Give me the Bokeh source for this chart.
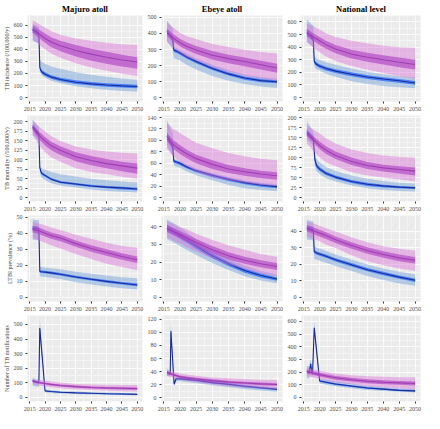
from bokeh.plotting import figure
from bokeh.layouts import gridplot
from bokeh.models import Range1d, FixedTicker, ColumnDataSource
from bokeh.embed import file_html
from bokeh.resources import INLINE

# ---------------- data ----------------
COLUMN_TITLES = ["Majuro atoll", "Ebeye atoll", "National level"]
ROW_LABELS = ["TB incidence (/100,000/y)", "TB mortality (/100,000/y)",
              "LTBI prevalence (%)", "Number of TB notifications"]
YEAR_TICKS = [2015, 2020, 2025, 2030, 2035, 2040, 2045, 2050]

# rows: (year, lo95, lo50, median, hi50, hi95)
# purple = baseline, blue = intervention
majuro_inc_base = [
    (2016, 480, 535, 565, 600, 640), (2018, 440, 495, 530, 565, 610),
    (2020, 400, 455, 490, 530, 580), (2022, 365, 420, 460, 500, 550),
    (2025, 330, 385, 430, 470, 520), (2030, 285, 340, 390, 435, 490),
    (2035, 250, 305, 360, 405, 470), (2040, 222, 280, 335, 380, 455),
    (2045, 198, 258, 312, 355, 443), (2050, 180, 240, 295, 335, 435)]
majuro_inc_int = [
    (2016, 470, 540, 560, 580, 610), (2017, 460, 527, 545, 565, 600),
    (2018, 450, 513, 530, 550, 590), (2018.3, 215, 236, 250, 265, 320),
    (2018.6, 200, 214, 228, 243, 305), (2019, 185, 198, 212, 227, 295),
    (2020, 165, 180, 194, 210, 280), (2022, 140, 156, 170, 186, 258),
    (2025, 120, 135, 150, 165, 240), (2030, 95, 113, 128, 143, 210),
    (2035, 78, 100, 114, 130, 190), (2040, 65, 90, 104, 120, 172),
    (2045, 55, 83, 97, 112, 158), (2050, 48, 78, 92, 106, 148)]
ebeye_inc_base = [
    (2016, 350, 385, 405, 430, 470), (2018, 310, 350, 370, 395, 435),
    (2020, 280, 320, 342, 367, 405), (2022, 255, 298, 320, 345, 385),
    (2025, 230, 272, 297, 322, 365), (2030, 190, 238, 264, 290, 335),
    (2035, 160, 215, 243, 268, 315), (2040, 135, 195, 225, 250, 298),
    (2045, 118, 175, 205, 230, 285), (2050, 105, 155, 185, 212, 275)]
ebeye_inc_int = [
    (2016, 350, 398, 414, 430, 480), (2017, 325, 370, 385, 400, 455),
    (2017.8, 300, 345, 360, 375, 430), (2018.1, 245, 285, 297, 305, 315),
    (2019, 240, 278, 290, 298, 308), (2020, 232, 268, 280, 288, 298),
    (2022, 205, 244, 255, 264, 275), (2025, 175, 214, 225, 234, 245),
    (2030, 135, 172, 182, 192, 205), (2035, 105, 138, 148, 158, 172),
    (2040, 85, 112, 122, 132, 145), (2045, 70, 96, 106, 116, 128),
    (2050, 60, 89, 99, 108, 118)]
national_inc_base = [
    (2016, 440, 485, 515, 545, 590), (2018, 400, 450, 480, 510, 565),
    (2020, 360, 418, 450, 480, 540), (2022, 325, 388, 420, 450, 510),
    (2025, 290, 352, 385, 418, 480), (2030, 250, 310, 345, 380, 450),
    (2035, 220, 285, 320, 355, 430), (2040, 195, 262, 300, 335, 412),
    (2045, 170, 240, 280, 318, 400), (2050, 150, 222, 262, 300, 395)]
national_inc_int = [
    (2016, 440, 495, 516, 540, 620), (2017, 420, 470, 490, 512, 595),
    (2018, 400, 445, 465, 485, 570), (2018.3, 250, 275, 290, 305, 330),
    (2018.6, 235, 260, 275, 290, 320), (2019, 225, 250, 265, 280, 310),
    (2020, 215, 235, 250, 265, 300), (2022, 190, 215, 230, 245, 280),
    (2025, 165, 195, 210, 225, 260), (2030, 130, 170, 185, 200, 230),
    (2035, 108, 148, 163, 178, 205), (2040, 92, 132, 147, 162, 185),
    (2045, 82, 118, 133, 148, 170), (2050, 75, 102, 116, 132, 160)]

majuro_mort_base = [
    (2016, 165, 177, 185, 193, 205), (2018, 140, 155, 165, 175, 188),
    (2020, 120, 138, 150, 160, 175), (2022, 107, 125, 137, 148, 163),
    (2025, 95, 113, 125, 136, 150), (2030, 78, 96, 108, 120, 135),
    (2035, 68, 86, 98, 110, 127), (2040, 62, 78, 90, 102, 122),
    (2045, 55, 70, 84, 95, 119), (2050, 50, 63, 78, 90, 117)]
majuro_mort_int = [
    (2016, 165, 181, 187, 193, 205), (2017, 158, 172, 178, 184, 196),
    (2018, 150, 163, 169, 175, 188), (2018.3, 68, 76, 80, 83, 85),
    (2018.6, 58, 66, 70, 73, 80), (2019, 52, 60, 64, 67, 77),
    (2020, 47, 55, 59, 62, 74), (2022, 38, 46, 49, 52, 68),
    (2025, 32, 38, 41, 44, 62), (2030, 27, 33, 36, 39, 56),
    (2035, 22, 28, 31, 34, 50), (2040, 18, 25, 28, 31, 46),
    (2045, 16, 22, 26, 29, 43), (2050, 14, 20, 23, 26, 40)]
ebeye_mort_base = [
    (2016, 85, 98, 105, 112, 130), (2018, 72, 85, 92, 100, 120),
    (2020, 62, 76, 84, 92, 113), (2022, 55, 69, 77, 84, 106),
    (2025, 45, 60, 68, 75, 96), (2030, 35, 50, 58, 65, 86),
    (2035, 30, 43, 50, 57, 78), (2040, 26, 38, 45, 51, 72),
    (2045, 22, 34, 41, 47, 68), (2050, 20, 31, 38, 44, 65)]
ebeye_mort_int = [
    (2016, 90, 102, 108, 114, 135), (2017, 80, 92, 98, 104, 122),
    (2017.8, 72, 82, 88, 94, 112), (2018.1, 56, 61, 64, 66, 68),
    (2019, 54, 59, 62, 64, 66), (2020, 52, 57, 60, 62, 64),
    (2022, 46, 51, 54, 56, 58), (2025, 39, 44, 47, 49, 51),
    (2030, 30, 36, 39, 41, 43), (2035, 22, 29, 32, 34, 36),
    (2040, 16, 23, 26, 28, 30), (2045, 13, 19, 22, 24, 26),
    (2050, 11, 16, 19, 21, 23)]
national_mort_base = [
    (2016, 135, 153, 160, 167, 180), (2018, 117, 137, 145, 153, 170),
    (2020, 100, 121, 130, 140, 160), (2022, 88, 109, 118, 128, 148),
    (2025, 78, 96, 105, 115, 135), (2030, 63, 81, 90, 100, 120),
    (2035, 55, 71, 80, 89, 111), (2040, 50, 65, 74, 82, 105),
    (2045, 45, 60, 70, 78, 102), (2050, 40, 55, 66, 75, 100)]
national_mort_int = [
    (2016, 145, 157, 163, 170, 190), (2017, 137, 149, 155, 162, 178),
    (2018, 128, 141, 147, 154, 165), (2018.5, 78, 90, 95, 100, 110),
    (2019, 66, 75, 80, 85, 96), (2020, 58, 66, 71, 76, 88),
    (2022, 48, 56, 60, 65, 76), (2025, 40, 47, 51, 55, 66),
    (2030, 30, 36, 40, 44, 55), (2035, 23, 29, 33, 37, 47),
    (2040, 19, 25, 29, 32, 41), (2045, 16, 23, 26, 29, 37),
    (2050, 15, 21, 24, 27, 35)]

majuro_ltbi_base = [
    (2016, 37, 40.5, 42.5, 44.5, 47), (2018, 35.5, 39.5, 41.5, 43.5, 46),
    (2020, 34, 38, 40, 42, 45), (2022, 32.5, 36.5, 38.5, 40.5, 43.5),
    (2025, 30.5, 35, 37, 39, 42), (2030, 27, 31.5, 33.5, 35.5, 39),
    (2035, 24, 28.5, 30.5, 32.5, 36.5), (2040, 21, 26, 28, 30, 34),
    (2045, 19, 23.5, 25.5, 27.5, 32), (2050, 17, 21.5, 23.5, 25.5, 31)]
majuro_ltbi_int = [
    (2016, 36, 41.5, 43, 44.5, 48.5), (2017, 35.8, 41.3, 42.8, 44.3, 48.2),
    (2018, 35.6, 41, 42.6, 44, 48), (2018.3, 13.2, 15.4, 16.2, 17, 19),
    (2019, 13, 15.2, 16, 16.8, 18.8), (2020, 12.8, 15, 15.8, 16.6, 18.6),
    (2022, 12.3, 14.5, 15.3, 16.1, 18.2), (2025, 11.5, 13.7, 14.5, 15.3, 17.6),
    (2030, 9.5, 11.9, 12.7, 13.5, 16), (2035, 8, 10.5, 11.3, 12.1, 14.8),
    (2040, 6.8, 9.2, 10, 10.8, 13.6), (2045, 5.8, 8.1, 8.9, 9.7, 12.6),
    (2050, 5, 7, 7.8, 8.7, 12)]
ebeye_ltbi_base = [
    (2016, 34, 37, 39, 41, 43), (2018, 32, 35.2, 37.2, 39.2, 41.5),
    (2020, 30.5, 33.5, 35.5, 37.5, 40), (2022, 28.5, 31.7, 33.7, 35.7, 38.5),
    (2025, 26, 29, 31, 33, 36), (2030, 22, 25, 27, 29, 32.5),
    (2035, 18.5, 21.5, 23.5, 25.5, 29.5), (2040, 16, 19, 21, 23, 27),
    (2045, 13.5, 17, 19, 21, 24.5), (2050, 12, 15.5, 17.5, 19.5, 23)]
ebeye_ltbi_int = [
    (2016, 33, 37.5, 39, 41, 44), (2018, 31, 35.5, 37, 39, 42),
    (2020, 29, 33.2, 34.7, 36.5, 39.5), (2022, 27, 31, 32.5, 34.2, 37),
    (2025, 24, 27.5, 29, 30.5, 33), (2030, 19.5, 22.2, 23.6, 25, 27),
    (2035, 15.5, 17.7, 19, 20.3, 22), (2040, 12, 14, 15.2, 16.4, 18),
    (2045, 9.5, 11.3, 12.4, 13.5, 15), (2050, 8, 9.4, 10.4, 11.4, 13)]
national_ltbi_base = [
    (2016, 37, 40, 42, 44, 46), (2018, 35.5, 38.5, 40.5, 42.5, 45),
    (2020, 34, 37, 39, 41, 43.5), (2022, 32, 35.5, 37.5, 39.5, 42),
    (2025, 30, 33, 35, 37, 40), (2030, 25.5, 29.5, 31.5, 33.5, 36.5),
    (2035, 22, 26.5, 28.5, 30.5, 33.5), (2040, 19.5, 24, 26, 28, 31),
    (2045, 17.5, 22, 24, 26, 29.5), (2050, 16, 20.5, 22.5, 24.5, 28.5)]
national_ltbi_int = [
    (2016, 35, 40.5, 42, 43.5, 47), (2017, 34.8, 40, 41.5, 43, 46.5),
    (2018, 34.5, 39.5, 41, 42.5, 46), (2018.3, 23.5, 26.8, 27.8, 28.8, 31),
    (2019, 23, 26, 27, 28, 30.3), (2020, 22.3, 25.3, 26.3, 27.3, 29.6),
    (2022, 21, 24, 25, 26, 28.2), (2025, 19, 21.8, 22.8, 23.8, 26),
    (2030, 16, 18.8, 19.8, 20.8, 23), (2035, 13, 15.8, 16.8, 17.8, 20),
    (2040, 10.5, 13.5, 14.5, 15.5, 17.5), (2045, 8.5, 11.3, 12.3, 13.3, 15.5),
    (2050, 7, 9.4, 10.4, 11.4, 14)]

majuro_notif_base = [
    (2016, 90, 104, 110, 116, 125), (2018, 82, 95, 102, 109, 120),
    (2020, 75, 88, 95, 102, 115), (2022, 69, 82, 89, 96, 109),
    (2025, 62, 75, 82, 89, 102), (2030, 55, 67, 74, 81, 92),
    (2035, 50, 61, 68, 75, 88), (2040, 46, 58, 65, 72, 86),
    (2045, 43, 55, 63, 70, 85), (2050, 40, 52, 60, 68, 85)]
majuro_notif_int = [
    (2016, 80, 108, 115, 122, 135), (2017, 75, 98, 105, 112, 125),
    (2018, 72, 93, 100, 107, 120), (2018.3, 420, 460, 475, 490, 540),
    (2020, 35, 42, 45, 48, 55), (2022, 31, 37, 40, 43, 50),
    (2025, 27, 32, 35, 38, 44), (2030, 23, 28, 31, 34, 40),
    (2035, 20, 25, 28, 31, 36), (2040, 18, 22, 25, 28, 33),
    (2045, 16, 20, 23, 26, 31), (2050, 14, 18, 21, 24, 29)]
ebeye_notif_base = [
    (2016, 33, 36, 38, 40, 42), (2018, 30, 33, 35, 37, 40),
    (2020, 27, 30, 32, 34, 37), (2022, 25.5, 28.5, 30.5, 32.5, 35.5),
    (2025, 23.5, 26.5, 28.5, 30.5, 33.5), (2030, 20, 24, 26, 28, 31),
    (2035, 17.5, 22, 24, 26, 29.5), (2040, 15.5, 20.5, 22.5, 24.5, 28.5),
    (2045, 14, 19, 21, 23, 27.5), (2050, 13, 18, 20, 22, 27)]
ebeye_notif_int = [
    (2016, 33, 37, 39, 41, 45), (2016.5, 33, 36, 38, 40, 42),
    (2017, 33, 35, 37, 39, 40), (2017.2, 90, 98, 102, 106, 118),
    (2018.2, 18, 19.5, 20.5, 21.5, 23), (2018.8, 25, 28, 29, 30, 32),
    (2020, 25, 27.5, 29, 30.5, 33), (2022, 24, 26.5, 28, 29.5, 32),
    (2025, 22, 25, 26.5, 28, 30), (2030, 19, 21.5, 23, 24.5, 26.5),
    (2035, 16, 19, 20.5, 22, 23.5), (2040, 13, 16, 17.4, 18.8, 20.5),
    (2045, 11, 13.7, 15, 16.3, 18), (2050, 9, 11.6, 12.8, 14, 16)]
national_notif_base = [
    (2016, 170, 190, 205, 220, 235), (2018, 158, 177, 192, 207, 222),
    (2020, 145, 165, 180, 195, 210), (2022, 132, 155, 170, 185, 200),
    (2025, 118, 140, 155, 170, 190), (2030, 105, 125, 140, 155, 175),
    (2035, 90, 113, 128, 143, 168), (2040, 80, 105, 120, 135, 163),
    (2045, 72, 100, 115, 130, 160), (2050, 65, 95, 110, 126, 160)]
national_notif_int = [
    (2016, 150, 195, 205, 215, 250), (2016.7, 150, 185, 195, 205, 245),
    (2017.2, 220, 255, 265, 275, 300), (2017.5, 160, 188, 200, 212, 240),
    (2017.8, 165, 195, 205, 215, 245), (2018.3, 500, 535, 550, 565, 600),
    (2020, 110, 123, 130, 137, 150), (2022, 100, 113, 120, 127, 140),
    (2025, 88, 99, 106, 113, 125), (2030, 72, 83, 90, 97, 110),
    (2035, 58, 68, 75, 82, 92), (2040, 50, 60, 66, 72, 82),
    (2045, 44, 50, 56, 62, 72), (2050, 40, 46, 52, 58, 68)]

PANEL_SERIES = [
    [(majuro_inc_base, majuro_inc_int), (ebeye_inc_base, ebeye_inc_int), (national_inc_base, national_inc_int)],
    [(majuro_mort_base, majuro_mort_int), (ebeye_mort_base, ebeye_mort_int), (national_mort_base, national_mort_int)],
    [(majuro_ltbi_base, majuro_ltbi_int), (ebeye_ltbi_base, ebeye_ltbi_int), (national_ltbi_base, national_ltbi_int)],
    [(majuro_notif_base, majuro_notif_int), (ebeye_notif_base, ebeye_notif_int), (national_notif_base, national_notif_int)],
]

Y_TICKS = [
    [[0, 100, 200, 300, 400, 500, 600], [0, 100, 200, 300, 400, 500], [0, 100, 200, 300, 400, 500, 600]],
    [[0, 25, 50, 75, 100, 125, 150, 175, 200], [0, 20, 40, 60, 80, 100, 120, 140], [0, 25, 50, 75, 100, 125, 150, 175, 200]],
    [[0, 10, 20, 30, 40, 50], [0, 10, 20, 30, 40], [0, 10, 20, 30, 40]],
    [[0, 100, 200, 300, 400, 500], [0, 20, 40, 60, 80, 100, 120], [0, 100, 200, 300, 400, 500, 600]],
]
Y_LIMITS = [
    [(-32, 680), (-24, 512), (-31, 651)],
    [(-10, 217), (-7, 143.5), (-10, 205)],
    [(-2.5, 51), (-2.3, 46.3), (-2.5, 49.7)],
    [(-28, 561), (-6, 126), (-32, 647)],
]

# ---------------- style ----------------
SERIF = "Liberation Serif"
PANEL_BG = "#EBEBEB"
BLUE_OUTER, BLUE_INNER, BLUE_LINE = "#6A9BD8", "#1E64FF", "#1A2A9A"
PURP_OUTER, PURP_INNER, PURP_LINE = "#DA70D6", "#B44CC8", "#9A3AAE"
COL_WIDTHS = [144, 140, 140]
ROW_HEIGHTS = [113, 100, 100, 100]


def midpoints(ticks):
    return [(a + b) / 2 for a, b in zip(ticks[:-1], ticks[1:])]


def columns(rows):
    cols = list(zip(*rows))
    return dict(x=list(cols[0]), lo95=list(cols[1]), lo50=list(cols[2]),
                med=list(cols[3]), hi50=list(cols[4]), hi95=list(cols[5]))


def draw(p, rows, outer, outer_a, inner, inner_a, line, line_a):
    src = ColumnDataSource(columns(rows))
    p.varea(x="x", y1="lo95", y2="hi95", source=src, fill_color=outer, fill_alpha=outer_a)
    p.varea(x="x", y1="lo50", y2="hi50", source=src, fill_color=inner, fill_alpha=inner_a)
    p.line(x="x", y="med", source=src, line_color=line, line_width=1.1, line_alpha=line_a)


grid = []
for r in range(4):
    row = []
    for c in range(3):
        base, inter = PANEL_SERIES[r][c]
        p = figure(width=COL_WIDTHS[c], height=ROW_HEIGHTS[r],
                   output_backend="svg", toolbar_location=None,
                   title=COLUMN_TITLES[c] if r == 0 else None,
                   x_range=Range1d(2014.3, 2051.7), y_range=Range1d(*Y_LIMITS[r][c]),
                   background_fill_color=PANEL_BG, border_fill_color="white",
                   outline_line_color=None,
                   min_border_left=19 if c == 0 else 12,
                   min_border_right=4 if c == 2 else 2,
                   min_border_top=2, min_border_bottom=11)
        if r == 0:
            p.title.align = "center"
            p.title.text_font = SERIF
            p.title.text_font_size = "8.5px"
            p.title.text_font_style = "bold"
            p.title.text_color = "black"
            p.title.standoff = 3
        p.xaxis.ticker = FixedTicker(ticks=YEAR_TICKS, minor_ticks=midpoints(YEAR_TICKS))
        p.yaxis.ticker = FixedTicker(ticks=Y_TICKS[r][c], minor_ticks=midpoints(Y_TICKS[r][c]))
        for ax in (p.xaxis[0], p.yaxis[0]):
            ax.axis_line_color = None
            ax.major_tick_line_color = "#333333"
            ax.major_tick_out = 2
            ax.major_tick_in = 0
            ax.minor_tick_line_color = None
            ax.major_label_text_font = SERIF
            ax.major_label_text_font_size = "6px"
            ax.major_label_text_color = "#4D4D4D"
            ax.major_label_standoff = 1
        if c == 0:
            p.yaxis.axis_label = ROW_LABELS[r]
            p.yaxis.axis_label_text_font = SERIF
            p.yaxis.axis_label_text_font_size = "6px"
            p.yaxis.axis_label_text_font_style = "normal"
            p.yaxis.axis_label_standoff = 1
        for g in (p.xgrid[0], p.ygrid[0]):
            g.grid_line_color = "white"
            g.grid_line_width = 0.8
            g.minor_grid_line_color = "white"
            g.minor_grid_line_width = 0.4
        draw(p, inter, BLUE_OUTER, 0.45, BLUE_INNER, 0.7, BLUE_LINE, 1.0)
        draw(p, base, PURP_OUTER, 0.45, PURP_INNER, 0.7, PURP_LINE, 0.9)
        row.append(p)
    grid.append(row)

layout = gridplot(grid, toolbar_location=None)
open("out.html", "w").write(file_html(layout, INLINE))
